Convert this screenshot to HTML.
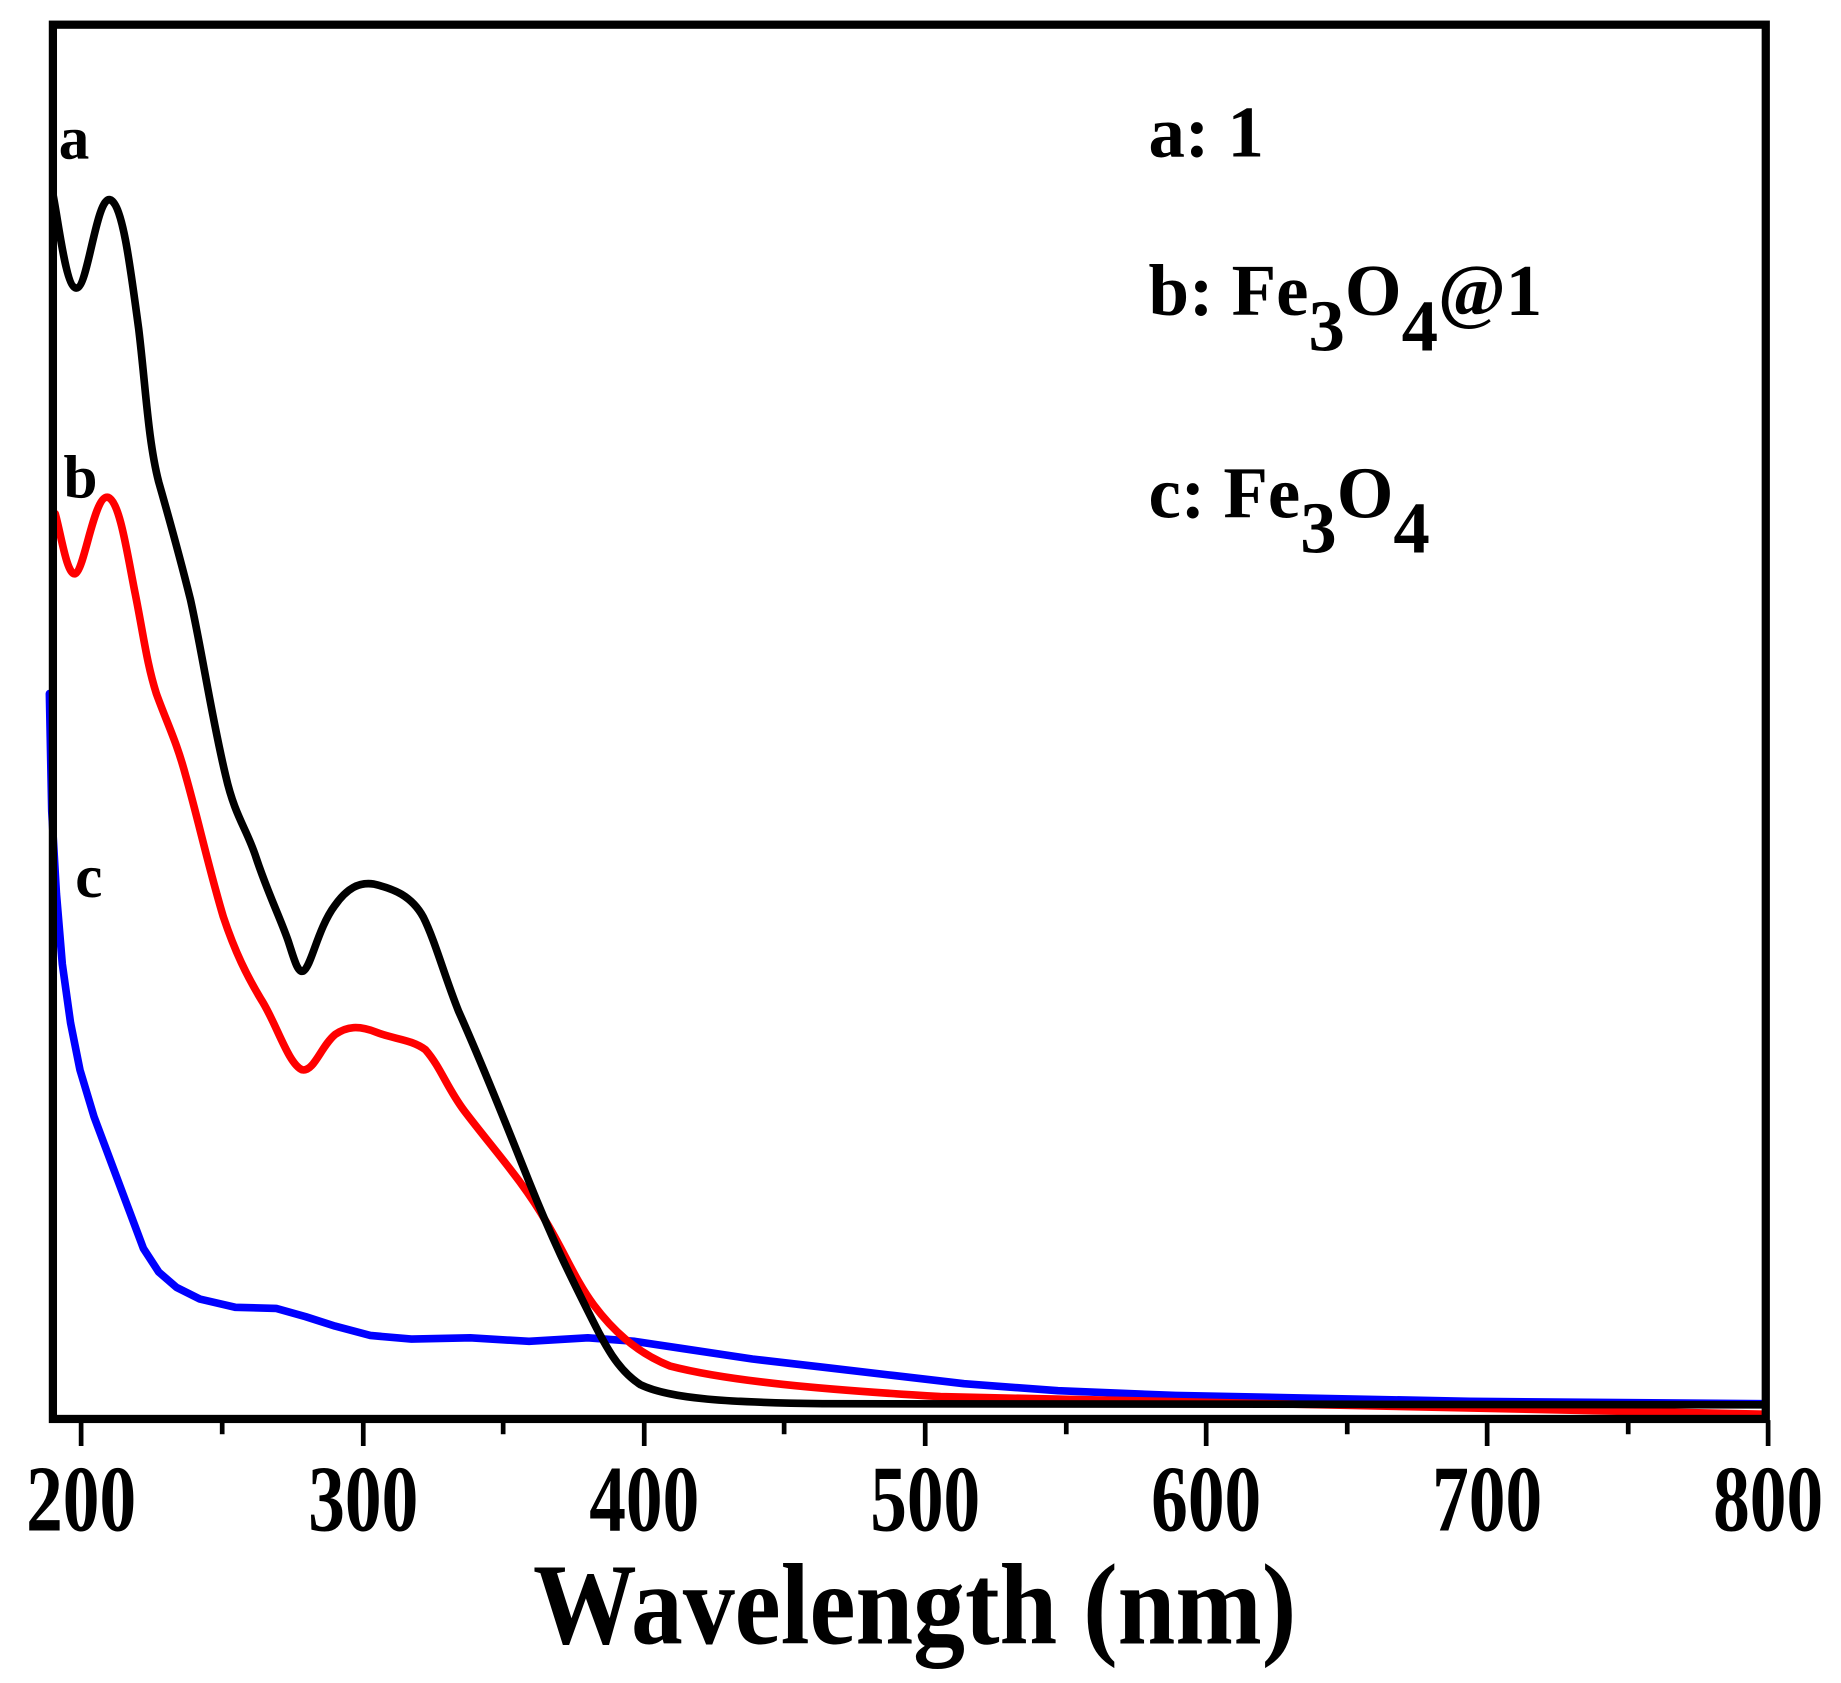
<!DOCTYPE html>
<html><head><style>html,body{margin:0;padding:0;background:#fff}svg{display:block}</style></head>
<body>
<svg width="1841" height="1683" viewBox="0 0 1566 1431.6" preserveAspectRatio="none" xmlns="http://www.w3.org/2000/svg" font-family="'Liberation Serif', serif" font-weight="bold">
<rect width="1566" height="1432" fill="#fff"/>
<g fill="none" stroke-linejoin="round" stroke-linecap="round" stroke-width="6.5">
<path stroke="#0000ff" d="M42,590 L44,690 L48,760 L53,820 L60,870 L68,910 L80,950 L95,990 L110,1030 L122,1062 L135,1082 L150,1095 L170,1105 L200,1112 L235,1113 L260,1120 L285,1128 L315,1136 L350,1139 L400,1138 L450,1141 L500,1138 L540,1141 L580,1147 L640,1156 L700,1163 L760,1170 L820,1177 L900,1183 L1000,1187 L1100,1189 L1250,1192 L1500,1194"/>
<path stroke="#ff0000" d="M47,437 C52,455 57,490 64,488 C72,485 80,420 92,423 C102,427 108,470 115,505 C122,540 125,565 133,590 C142,615 150,630 158,660 C168,695 178,740 190,780 C200,810 210,830 222,850 C235,870 245,905 257,910 C267,912 273,890 285,880 C295,873 305,872 320,878 C335,884 350,884 362,893 C375,908 380,925 395,945 C420,978 445,1005 465,1040 C480,1065 490,1090 505,1110 C520,1130 540,1150 570,1162 C620,1175 700,1182 800,1188 C900,1192 1100,1196 1500,1203"/>
<path stroke="#000" d="M45,165 C50,190 56,245 65,245 C75,245 82,165 94,170 C104,175 110,220 118,280 C124,330 126,375 135,410 C145,445 152,470 162,510 C172,555 180,610 192,660 C200,695 210,705 218,730 C228,760 238,780 245,800 C250,815 253,828 258,826 C265,822 270,790 285,770 C295,756 305,750 318,752 C335,756 350,762 360,780 C370,800 378,830 390,860 C410,905 430,955 450,1005 C470,1055 485,1085 500,1115 C515,1145 525,1165 545,1178 C570,1190 620,1193 700,1194 L1500,1195"/>
</g>
<rect x="45" y="21" width="1457" height="1186" fill="none" stroke="#000" stroke-width="7"/>
<g stroke="#000" stroke-width="4">
<line x1="69" y1="1208" x2="69" y2="1230"/><line x1="189" y1="1208" x2="189" y2="1220"/>
<line x1="309" y1="1208" x2="309" y2="1230"/><line x1="428" y1="1208" x2="428" y2="1220"/>
<line x1="548" y1="1208" x2="548" y2="1230"/><line x1="667" y1="1208" x2="667" y2="1220"/>
<line x1="787" y1="1208" x2="787" y2="1230"/><line x1="907" y1="1208" x2="907" y2="1220"/>
<line x1="1026" y1="1208" x2="1026" y2="1230"/><line x1="1146" y1="1208" x2="1146" y2="1220"/>
<line x1="1265" y1="1208" x2="1265" y2="1230"/><line x1="1385" y1="1208" x2="1385" y2="1220"/>
<line x1="1504" y1="1208" x2="1504" y2="1230"/>
</g>
<g font-size="80" text-anchor="middle" fill="#000">
<text transform="translate(69,1302) scale(0.78,1)">200</text>
<text transform="translate(309,1302) scale(0.78,1)">300</text>
<text transform="translate(548,1302) scale(0.78,1)">400</text>
<text transform="translate(787,1302) scale(0.78,1)">500</text>
<text transform="translate(1026,1302) scale(0.78,1)">600</text>
<text transform="translate(1265,1302) scale(0.78,1)">700</text>
<text transform="translate(1504,1302) scale(0.78,1)">800</text>
<text transform="translate(778,1398) scale(0.9,1)" font-size="98">Wavelength (nm)</text>
</g>
<g font-size="52" fill="#000">
<text x="50" y="135">a</text>
<text x="54" y="423">b</text>
<text x="64" y="763">c</text>
<text x="977" y="133" font-size="62">a: 1</text>
<text x="977" y="268" font-size="62">b: Fe<tspan dy="30">3</tspan><tspan dy="-30">O</tspan><tspan dy="30">4</tspan><tspan dy="-30">@1</tspan></text>
<text x="977" y="440" font-size="62">c: Fe<tspan dy="30">3</tspan><tspan dy="-30">O</tspan><tspan dy="30">4</tspan></text>
</g>
</svg>
</body></html>
